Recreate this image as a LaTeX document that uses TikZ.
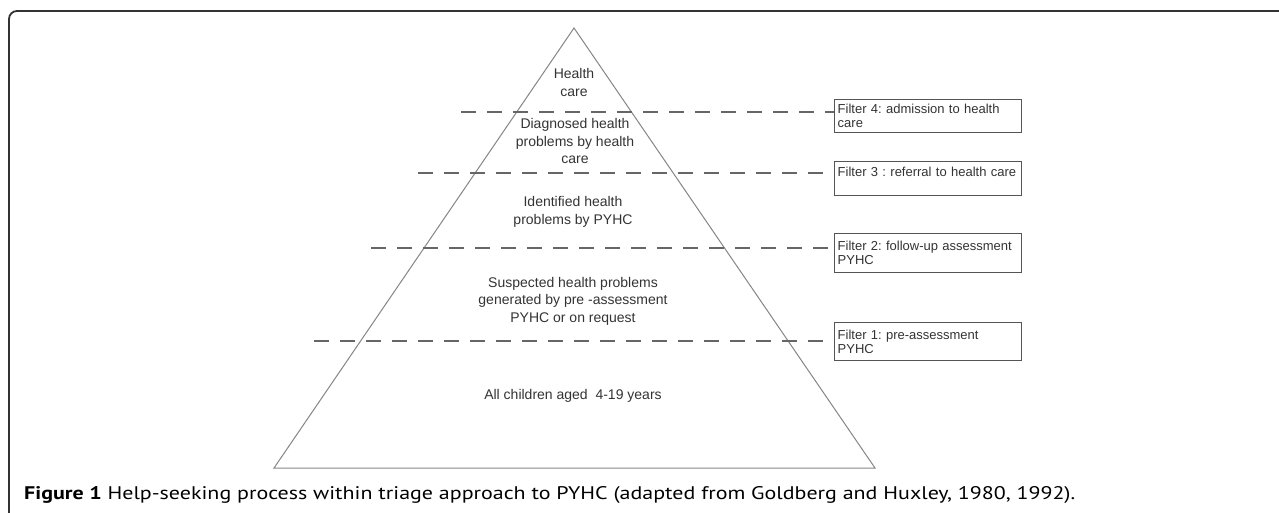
\documentclass[tikz,border=0pt]{standalone}
\usepackage{fontspec}
\setmainfont{Liberation Sans}
\newfontfamily\capfont{PT Sans}
\usetikzlibrary{calc}
\definecolor{txt}{HTML}{333333}
\definecolor{tric}{HTML}{858585}
\definecolor{dashc}{HTML}{666666}
\definecolor{boxc}{HTML}{555555}
\definecolor{framec}{HTML}{333333}
\frenchspacing
\begin{document}
\begin{tikzpicture}[x=1pt,y=-1pt,
  lbl/.style={font=\fontsize{14}{17.5}\selectfont, text=txt, align=center, inner sep=0pt},
  filterbox/.style={draw=boxc, line width=1.4pt, text width=181pt, align=left,
    inner xsep=3pt, inner ysep=2pt, font=\fontsize{13}{14}\selectfont, text=txt, anchor=north west},
  filterline/.style={draw=dashc, line width=2.4pt, dash pattern=on 15pt off 11pt},
  trianglestyle/.style={draw=tric, line width=1pt},
  framestyle/.style={draw=framec, line width=1.8pt, rounded corners=8pt}]
\useasboundingbox (0,0) rectangle (1279,512);
% frame
\coordinate (fb) at (9,514);
\coordinate (ftl) at (9,11);
\coordinate (fr) at (1281,11);
\draw[framestyle] (fb) -- (ftl) -- (fr);
% triangle
\coordinate (apex) at (574,28);
\coordinate (bl) at (274,468);
\coordinate (br) at (875,468);
\draw[trianglestyle] (apex) -- (bl) -- (br) -- cycle;
% labels
\node[lbl] (l5) at (574,82.5) {Health\\care};
\node[lbl] (l4) at (575,141) {Diagnosed health\\problems by health\\care};
\node[lbl] (l3) at (573,212) {Identified health\\problems by PYHC};
\node[lbl] (l2) at (573,301) {Suspected health problems\\generated by pre -assessment\\PYHC or on request};
\node[lbl] (l1) at (573,396) {All children aged\ \ 4-19 years};
% filter boxes
\node[filterbox, minimum height=33pt] (f4) at (834,99) {Filter 4: admission to health\\care};
\node[filterbox, minimum height=34pt] (f3) at (834,161) {Filter 3 : referral to health care\\\mbox{}};
\node[filterbox, minimum height=39pt] (f2) at (834,233) {Filter 2: follow-up assessment\\PYHC};
\node[filterbox, minimum height=38pt] (f1) at (834,322) {Filter 1: pre-assessment\\PYHC};
% dashed filter lines
\coordinate (d4) at (461,112);
\coordinate (d3) at (418,173);
\coordinate (d2) at (371,248);
\coordinate (d1) at (314,341);
\draw[filterline] (d4) -- (d4 -| f4.west);
\draw[filterline] (d3) -- (d3 -| f3.west);
\draw[filterline] (d2) -- (d2 -| f2.west);
\draw[filterline] (d1) -- (d1 -| f1.west);
% caption
\node[anchor=base west, inner sep=0pt, text=black] (cap) at (24,499)
  {\resizebox{1051pt}{13pt}{\capfont\fontsize{16}{18}\selectfont\textbf{Figure 1} Help-seeking process within triage approach to PYHC (adapted from Goldberg and Huxley, 1980, 1992).}};
\end{tikzpicture}
\end{document}
